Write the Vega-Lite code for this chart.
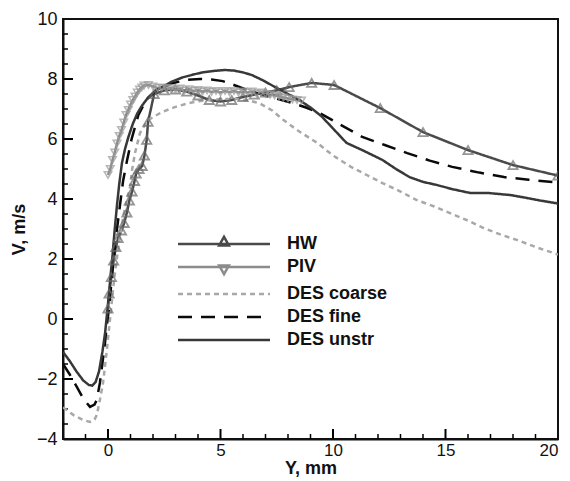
{
  "$schema": "https://vega.github.io/schema/vega-lite/v6.json",
  "width": 495,
  "height": 420,
  "autosize": {"type": "none"},
  "padding": {"left": 63, "top": 19, "right": 12, "bottom": 42},
  "background": "white",
  "config": {
    "font": "Liberation Sans",
    "view": {"stroke": "#111", "strokeWidth": 2},
    "axis": {"grid": false, "domainColor": "#111", "domainWidth": 2, "labelColor": "#111", "labelFontSize": 18, "labelFont": "Liberation Sans", "titleFont": "Liberation Sans", "titleFontSize": 18, "titleFontWeight": "bold", "titleColor": "#111"}
  },
  "datasets": {
    "xmajor": [{"v": 0}, {"v": 5}, {"v": 10}, {"v": 15}],
    "xminor": [{"v": -1}, {"v": 1}, {"v": 2}, {"v": 3}, {"v": 4}, {"v": 6}, {"v": 7}, {"v": 8}, {"v": 9}, {"v": 11}, {"v": 12}, {"v": 13}, {"v": 14}, {"v": 16}, {"v": 17}, {"v": 18}, {"v": 19}],
    "ymajor": [{"v": -2}, {"v": 0}, {"v": 2}, {"v": 4}, {"v": 6}, {"v": 8}],
    "yminor": [{"v": -3.5}, {"v": -3}, {"v": -2.5}, {"v": -1.5}, {"v": -1}, {"v": -0.5}, {"v": 0.5}, {"v": 1}, {"v": 1.5}, {"v": 2.5}, {"v": 3}, {"v": 3.5}, {"v": 4.5}, {"v": 5}, {"v": 5.5}, {"v": 6.5}, {"v": 7}, {"v": 7.5}, {"v": 8.5}, {"v": 9}, {"v": 9.5}],
    "series": [
    {"s":"HW","x":0,"y":0.35},{"s":"HW","x":0.05,"y":0.85},{"s":"HW","x":0.15,"y":1.4},{"s":"HW","x":0.25,"y":1.95},{"s":"HW","x":0.35,"y":2.4},{"s":"HW","x":0.45,"y":2.7},{"s":"HW","x":0.6,"y":2.95},{"s":"HW","x":0.72,"y":3.2},{"s":"HW","x":0.84,"y":3.55},{"s":"HW","x":0.95,"y":3.95},{"s":"HW","x":1.07,"y":4.25},{"s":"HW","x":1.18,"y":4.6},{"s":"HW","x":1.25,"y":4.85},{"s":"HW","x":1.38,"y":5.0},{"s":"HW","x":1.52,"y":5.1},{"s":"HW","x":1.62,"y":5.45},{"s":"HW","x":1.72,"y":5.97},{"s":"HW","x":1.78,"y":6.57},{"s":"HW","x":2.05,"y":7.5},{"s":"HW","x":2.5,"y":7.62},{"s":"HW","x":3.0,"y":7.65},{"s":"HW","x":3.5,"y":7.58},{"s":"HW","x":4.0,"y":7.45},{"s":"HW","x":4.5,"y":7.3},{"s":"HW","x":5.0,"y":7.25},{"s":"HW","x":5.5,"y":7.3},{"s":"HW","x":6.0,"y":7.4},{"s":"HW","x":6.5,"y":7.48},{"s":"HW","x":7.0,"y":7.55},{"s":"HW","x":7.5,"y":7.62},{"s":"HW","x":8.05,"y":7.73},{"s":"HW","x":9.05,"y":7.87},{"s":"HW","x":10.05,"y":7.8},{"s":"HW","x":12.1,"y":7.03},{"s":"HW","x":14.0,"y":6.23},{"s":"HW","x":16.0,"y":5.63},{"s":"HW","x":18.0,"y":5.13},{"s":"HW","x":20.0,"y":4.78},
    {"s":"PIV","x":0.0,"y":4.8},{"s":"PIV","x":0.1,"y":5.0},{"s":"PIV","x":0.2,"y":5.3},{"s":"PIV","x":0.3,"y":5.55},{"s":"PIV","x":0.4,"y":5.85},{"s":"PIV","x":0.5,"y":6.1},{"s":"PIV","x":0.6,"y":6.3},{"s":"PIV","x":0.7,"y":6.55},{"s":"PIV","x":0.8,"y":6.8},{"s":"PIV","x":0.9,"y":6.97},{"s":"PIV","x":1.0,"y":7.15},{"s":"PIV","x":1.1,"y":7.3},{"s":"PIV","x":1.2,"y":7.42},{"s":"PIV","x":1.3,"y":7.55},{"s":"PIV","x":1.4,"y":7.65},{"s":"PIV","x":1.5,"y":7.72},{"s":"PIV","x":1.6,"y":7.78},{"s":"PIV","x":1.8,"y":7.8},{"s":"PIV","x":2.0,"y":7.75},{"s":"PIV","x":2.2,"y":7.7},{"s":"PIV","x":2.4,"y":7.72},{"s":"PIV","x":2.6,"y":7.68},{"s":"PIV","x":2.8,"y":7.7},{"s":"PIV","x":3.0,"y":7.65},{"s":"PIV","x":3.2,"y":7.68},{"s":"PIV","x":3.4,"y":7.62},{"s":"PIV","x":3.6,"y":7.66},{"s":"PIV","x":3.8,"y":7.6},{"s":"PIV","x":4.0,"y":7.63},{"s":"PIV","x":4.2,"y":7.58},{"s":"PIV","x":4.4,"y":7.62},{"s":"PIV","x":4.6,"y":7.57},{"s":"PIV","x":4.8,"y":7.6},{"s":"PIV","x":5.0,"y":7.55},{"s":"PIV","x":5.2,"y":7.6},{"s":"PIV","x":5.4,"y":7.56},{"s":"PIV","x":5.6,"y":7.6},{"s":"PIV","x":5.8,"y":7.55},{"s":"PIV","x":6.0,"y":7.58},{"s":"PIV","x":6.2,"y":7.55},{"s":"PIV","x":6.4,"y":7.58},{"s":"PIV","x":6.6,"y":7.52},{"s":"PIV","x":6.8,"y":7.55},{"s":"PIV","x":7.0,"y":7.5},{"s":"PIV","x":7.2,"y":7.48},{"s":"PIV","x":7.4,"y":7.45},{"s":"PIV","x":7.6,"y":7.42},{"s":"PIV","x":7.8,"y":7.38},{"s":"PIV","x":8.0,"y":7.35},{"s":"PIV","x":8.2,"y":7.32},{"s":"PIV","x":8.4,"y":7.3},{"s":"PIV","x":8.6,"y":7.28},
    {"s":"DES coarse","x":-2,"y":-2.95},{"s":"DES coarse","x":-1.8,"y":-3.05},{"s":"DES coarse","x":-1.5,"y":-3.22},{"s":"DES coarse","x":-1.1,"y":-3.37},{"s":"DES coarse","x":-0.8,"y":-3.43},{"s":"DES coarse","x":-0.6,"y":-3.35},{"s":"DES coarse","x":-0.5,"y":-3.2},{"s":"DES coarse","x":-0.36,"y":-2.7},{"s":"DES coarse","x":-0.22,"y":-2.13},{"s":"DES coarse","x":-0.05,"y":-1.03},{"s":"DES coarse","x":0.09,"y":0.0},{"s":"DES coarse","x":0.2,"y":0.8},{"s":"DES coarse","x":0.3,"y":1.5},{"s":"DES coarse","x":0.5,"y":2.6},{"s":"DES coarse","x":0.7,"y":3.5},{"s":"DES coarse","x":0.85,"y":4.0},{"s":"DES coarse","x":0.98,"y":4.4},{"s":"DES coarse","x":1.07,"y":4.97},{"s":"DES coarse","x":1.2,"y":5.53},{"s":"DES coarse","x":1.42,"y":6.2},{"s":"DES coarse","x":1.78,"y":6.63},{"s":"DES coarse","x":2.4,"y":6.9},{"s":"DES coarse","x":3.0,"y":7.07},{"s":"DES coarse","x":3.5,"y":7.18},{"s":"DES coarse","x":4.1,"y":7.27},{"s":"DES coarse","x":5.0,"y":7.33},{"s":"DES coarse","x":5.8,"y":7.33},{"s":"DES coarse","x":6.3,"y":7.28},{"s":"DES coarse","x":6.76,"y":7.18},{"s":"DES coarse","x":7.3,"y":6.95},{"s":"DES coarse","x":7.8,"y":6.63},{"s":"DES coarse","x":8.5,"y":6.25},{"s":"DES coarse","x":9.3,"y":5.87},{"s":"DES coarse","x":10.0,"y":5.45},{"s":"DES coarse","x":10.8,"y":5.07},{"s":"DES coarse","x":11.5,"y":4.8},{"s":"DES coarse","x":12.2,"y":4.53},{"s":"DES coarse","x":13.0,"y":4.25},{"s":"DES coarse","x":13.7,"y":3.97},{"s":"DES coarse","x":14.5,"y":3.75},{"s":"DES coarse","x":15.2,"y":3.53},{"s":"DES coarse","x":16.0,"y":3.28},{"s":"DES coarse","x":16.7,"y":3.03},{"s":"DES coarse","x":17.5,"y":2.8},{"s":"DES coarse","x":18.2,"y":2.63},{"s":"DES coarse","x":19.0,"y":2.4},{"s":"DES coarse","x":19.8,"y":2.2},{"s":"DES coarse","x":20,"y":2.15},
    {"s":"DES fine","x":-2,"y":-1.5},{"s":"DES fine","x":-1.7,"y":-1.85},{"s":"DES fine","x":-1.38,"y":-2.27},{"s":"DES fine","x":-1.1,"y":-2.65},{"s":"DES fine","x":-0.8,"y":-2.93},{"s":"DES fine","x":-0.6,"y":-2.85},{"s":"DES fine","x":-0.5,"y":-2.7},{"s":"DES fine","x":-0.36,"y":-2.13},{"s":"DES fine","x":-0.27,"y":-1.6},{"s":"DES fine","x":-0.15,"y":-0.9},{"s":"DES fine","x":-0.05,"y":-0.2},{"s":"DES fine","x":0.05,"y":0.4},{"s":"DES fine","x":0.15,"y":1.2},{"s":"DES fine","x":0.25,"y":2.0},{"s":"DES fine","x":0.35,"y":2.7},{"s":"DES fine","x":0.45,"y":3.3},{"s":"DES fine","x":0.55,"y":3.9},{"s":"DES fine","x":0.67,"y":4.6},{"s":"DES fine","x":0.85,"y":5.3},{"s":"DES fine","x":1.05,"y":6.0},{"s":"DES fine","x":1.35,"y":6.8},{"s":"DES fine","x":1.7,"y":7.3},{"s":"DES fine","x":2.1,"y":7.6},{"s":"DES fine","x":2.8,"y":7.85},{"s":"DES fine","x":3.5,"y":7.97},{"s":"DES fine","x":4.1,"y":8.0},{"s":"DES fine","x":4.6,"y":7.98},{"s":"DES fine","x":5.1,"y":7.93},{"s":"DES fine","x":5.6,"y":7.8},{"s":"DES fine","x":6.2,"y":7.63},{"s":"DES fine","x":7.2,"y":7.4},{"s":"DES fine","x":8.2,"y":7.2},{"s":"DES fine","x":8.8,"y":7.05},{"s":"DES fine","x":9.4,"y":6.87},{"s":"DES fine","x":10.2,"y":6.53},{"s":"DES fine","x":11.3,"y":6.07},{"s":"DES fine","x":12.3,"y":5.8},{"s":"DES fine","x":13.3,"y":5.53},{"s":"DES fine","x":14.3,"y":5.28},{"s":"DES fine","x":15.3,"y":5.07},{"s":"DES fine","x":16.5,"y":4.88},{"s":"DES fine","x":17.6,"y":4.73},{"s":"DES fine","x":18.7,"y":4.64},{"s":"DES fine","x":20,"y":4.55},
    {"s":"DES unstr","x":-2,"y":-1.1},{"s":"DES unstr","x":-1.7,"y":-1.4},{"s":"DES unstr","x":-1.4,"y":-1.75},{"s":"DES unstr","x":-1.1,"y":-2.05},{"s":"DES unstr","x":-0.85,"y":-2.2},{"s":"DES unstr","x":-0.7,"y":-2.22},{"s":"DES unstr","x":-0.55,"y":-2.1},{"s":"DES unstr","x":-0.4,"y":-1.75},{"s":"DES unstr","x":-0.25,"y":-1.1},{"s":"DES unstr","x":-0.13,"y":-0.47},{"s":"DES unstr","x":-0.04,"y":0.2},{"s":"DES unstr","x":0.05,"y":0.9},{"s":"DES unstr","x":0.12,"y":1.5},{"s":"DES unstr","x":0.2,"y":2.1},{"s":"DES unstr","x":0.3,"y":3.0},{"s":"DES unstr","x":0.4,"y":3.8},{"s":"DES unstr","x":0.5,"y":4.5},{"s":"DES unstr","x":0.62,"y":5.2},{"s":"DES unstr","x":0.75,"y":5.65},{"s":"DES unstr","x":0.9,"y":6.05},{"s":"DES unstr","x":1.1,"y":6.5},{"s":"DES unstr","x":1.3,"y":6.85},{"s":"DES unstr","x":1.5,"y":7.1},{"s":"DES unstr","x":1.8,"y":7.4},{"s":"DES unstr","x":2.1,"y":7.6},{"s":"DES unstr","x":2.4,"y":7.73},{"s":"DES unstr","x":2.8,"y":7.9},{"s":"DES unstr","x":3.3,"y":8.05},{"s":"DES unstr","x":3.8,"y":8.15},{"s":"DES unstr","x":4.2,"y":8.22},{"s":"DES unstr","x":4.7,"y":8.27},{"s":"DES unstr","x":5.2,"y":8.3},{"s":"DES unstr","x":5.6,"y":8.28},{"s":"DES unstr","x":6.0,"y":8.22},{"s":"DES unstr","x":6.4,"y":8.13},{"s":"DES unstr","x":6.9,"y":7.95},{"s":"DES unstr","x":7.5,"y":7.7},{"s":"DES unstr","x":8.0,"y":7.5},{"s":"DES unstr","x":8.5,"y":7.3},{"s":"DES unstr","x":9.0,"y":7.05},{"s":"DES unstr","x":9.5,"y":6.75},{"s":"DES unstr","x":10.0,"y":6.35},{"s":"DES unstr","x":10.6,"y":5.87},{"s":"DES unstr","x":11.3,"y":5.63},{"s":"DES unstr","x":12.2,"y":5.3},{"s":"DES unstr","x":12.8,"y":5.0},{"s":"DES unstr","x":13.4,"y":4.73},{"s":"DES unstr","x":14.0,"y":4.57},{"s":"DES unstr","x":14.6,"y":4.47},{"s":"DES unstr","x":15.3,"y":4.33},{"s":"DES unstr","x":16.1,"y":4.2},{"s":"DES unstr","x":16.9,"y":4.2},{"s":"DES unstr","x":17.9,"y":4.13},{"s":"DES unstr","x":18.5,"y":4.05},{"s":"DES unstr","x":19.2,"y":3.95},{"s":"DES unstr","x":20,"y":3.85}
  ]},
  "layer": [
    {
      "data": {"name": "xmajor"},
      "mark": {"type": "rule", "stroke": "#000", "strokeWidth": 2},
      "encoding": {
        "x": {"field": "v", "type": "quantitative", "scale": {"domain": [-2, 20], "nice": false, "zero": false},
              "axis": {"orient": "bottom", "title": "Y, mm", "values": [0, 5, 10, 15, 20], "ticks": false, "labelPadding": 3, "labelFontSize": 17, "titlePadding": 1, "format": "d"}},
        "y": {"datum": -4, "type": "quantitative", "scale": {"domain": [-4, 10], "nice": false, "zero": false},
              "axis": {"orient": "left", "title": "V, m/s", "values": [-4, -2, 0, 2, 4, 6, 8, 10], "ticks": false, "labelPadding": 6, "titlePadding": 8, "format": "d"}},
        "y2": {"datum": -3.667}
      }
    },
    {
      "data": {"name": "xminor"},
      "mark": {"type": "rule", "stroke": "#000", "strokeWidth": 1.5},
      "encoding": {
        "x": {"field": "v", "type": "quantitative"},
        "y": {"datum": -4, "type": "quantitative"},
        "y2": {"datum": -3.833}
      }
    },
    {
      "data": {"name": "ymajor"},
      "mark": {"type": "rule", "stroke": "#000", "strokeWidth": 2},
      "encoding": {
        "y": {"field": "v", "type": "quantitative"},
        "x": {"datum": -2, "type": "quantitative"},
        "x2": {"datum": -1.556}
      }
    },
    {
      "data": {"name": "yminor"},
      "mark": {"type": "rule", "stroke": "#000", "strokeWidth": 1.5},
      "encoding": {
        "y": {"field": "v", "type": "quantitative"},
        "x": {"datum": -2, "type": "quantitative"},
        "x2": {"datum": -1.778}
      }
    },
    {
      "data": {"name": "series"},
      "mark": {"type": "line", "strokeWidth": 2.5, "clip": true},
      "encoding": {
        "x": {"field": "x", "type": "quantitative"},
        "y": {"field": "y", "type": "quantitative"},
        "color": {"field": "s", "type": "nominal",
                  "scale": {"domain": ["HW", "PIV", "DES coarse", "DES fine", "DES unstr"], "range": ["#4a4a4a", "#8c8c8c", "#a8a8a8", "#0a0a0a", "#383838"]},
                  "legend": {"title": null, "orient": "none", "legendX": 148, "legendY": 212,
                             "labelFontSize": 18, "labelFontWeight": "bold", "labelColor": "#111", "labelFont": "Liberation Sans",
                             "symbolSize": 529, "symbolStrokeWidth": 2.5, "labelOffset": 50, "rowPadding": 1,
                             "encode": {"symbols": {"update": {
                               "shape": {"signal": "datum.value === 'HW' ? 'M-4,0L4,0M0,-0.62L0.42,0.12L-0.42,0.12Z' : datum.value === 'PIV' ? 'M-4,0L4,0M0,0.62L0.42,-0.12L-0.42,-0.12Z' : 'M-4,0L4,0'"},
                               "fill": {"value": "transparent"}
                             }}}}},
        "strokeDash": {"field": "s", "type": "nominal",
                       "scale": {"domain": ["HW", "PIV", "DES coarse", "DES fine", "DES unstr"], "range": [[1, 0], [1, 0], [5, 4], [14, 9], [1, 0]]}}
      }
    },
    {
      "data": {"name": "series"},
      "transform": [{"filter": "datum.s === 'HW'"}],
      "mark": {"type": "point", "shape": "triangle-up", "filled": false, "stroke": "#6a6a6a", "strokeWidth": 1.8, "size": 85, "clip": true},
      "encoding": {
        "x": {"field": "x", "type": "quantitative"},
        "y": {"field": "y", "type": "quantitative"}
      }
    },
    {
      "data": {"name": "series"},
      "transform": [{"filter": "datum.s === 'PIV'"}],
      "mark": {"type": "point", "shape": "triangle-down", "filled": false, "stroke": "#9a9a9a", "strokeWidth": 1.6, "size": 55, "clip": true},
      "encoding": {
        "x": {"field": "x", "type": "quantitative"},
        "y": {"field": "y", "type": "quantitative"}
      }
    }
  ]
}
